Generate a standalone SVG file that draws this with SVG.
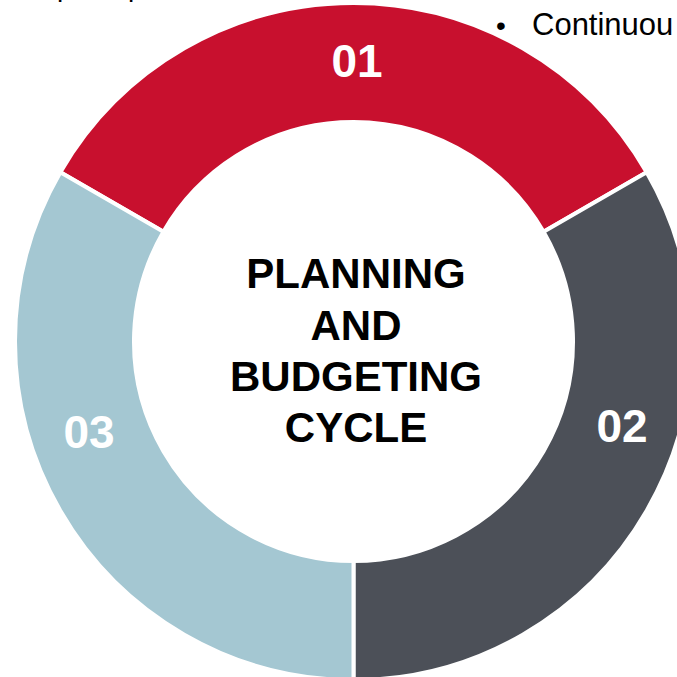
<svg xmlns="http://www.w3.org/2000/svg" width="677" height="677" viewBox="0 0 677 677">
<style>
.seg{stroke:#fff;stroke-width:4;stroke-linejoin:miter}
.num{font-family:"Liberation Sans",Arial,sans-serif;font-weight:bold;font-size:46px;fill:#fff;text-anchor:middle}
.ctr{font-family:"Liberation Sans",Arial,sans-serif;font-weight:bold;font-size:42px;fill:#000;text-anchor:middle}
.body{font-family:"Liberation Sans",Arial,sans-serif;font-size:28px;fill:#000}
</style>
<rect width="677" height="677" fill="#fff"/>
<text class="body" x="57" y="-4">p</text>
<text class="body" x="128" y="-4">p</text>
<text class="body" x="496" y="35">•</text>
<text class="body" x="532" y="35" style="font-size:31px">Continuou</text>
<g id="seg01">
<path class="seg" fill="#C8102E" d="M60.35,172.25 A338.5,338.5 0 0 1 646.65,172.25 L543.59,231.75 A219.5,219.5 0 0 0 163.41,231.75 Z"/>
<text class="num" x="357" y="77">01</text>
</g>
<g id="seg02">
<path class="seg" fill="#4C5058" d="M646.65,172.25 A338.5,338.5 0 0 1 353.5,680 L353.5,561 A219.5,219.5 0 0 0 543.59,231.75 Z"/>
<text class="num" x="622" y="442">02</text>
</g>
<g id="seg03">
<path class="seg" fill="#A4C7D2" d="M353.5,680 A338.5,338.5 0 0 1 60.35,172.25 L163.41,231.75 A219.5,219.5 0 0 0 353.5,561 Z"/>
<text class="num" x="89" y="448">03</text>
</g>
<g id="center">
<text class="ctr" x="356" y="288">PLANNING</text>
<text class="ctr" x="356" y="340">AND</text>
<text class="ctr" x="356" y="391">BUDGETING</text>
<text class="ctr" x="356" y="442">CYCLE</text>
</g>
<g id="connectors"></g>
</svg>
